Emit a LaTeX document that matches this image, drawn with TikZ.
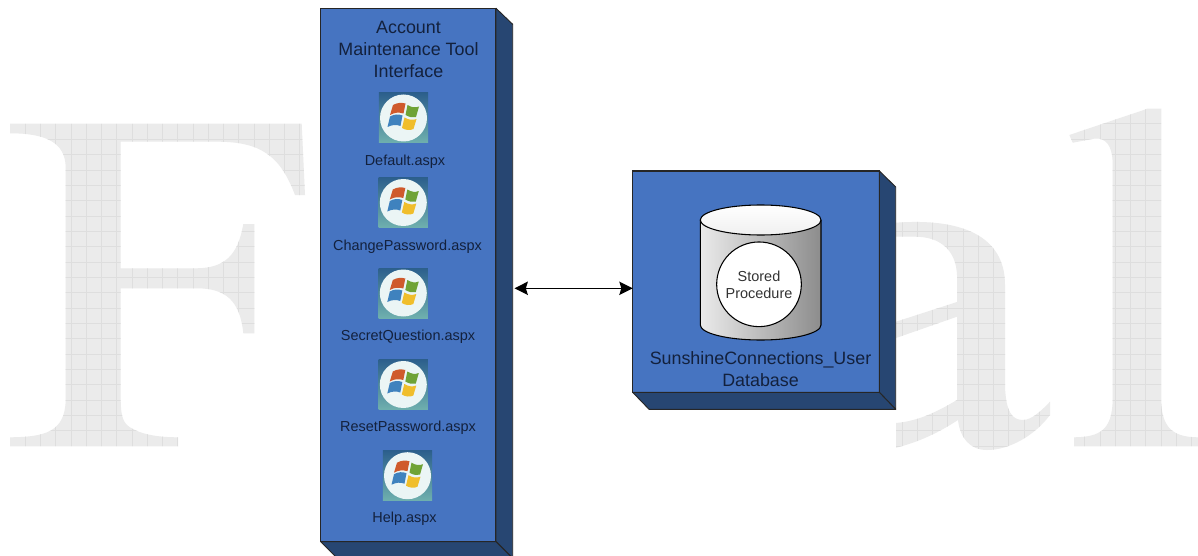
\documentclass[tikz,border=0pt]{standalone}
\usepackage{fontspec}
\setmainfont{Liberation Sans}
\usetikzlibrary{arrows.meta,calc}
\definecolor{boxblue}{HTML}{4674C1}
\definecolor{boxdark}{HTML}{274672}
\definecolor{inktext}{HTML}{13213D}
\definecolor{wmfill}{HTML}{EBEBEB}
\definecolor{wmgrid}{HTML}{DEDEDE}
\definecolor{icontop}{HTML}{2C5F8C}
\definecolor{iconlow}{HTML}{6FB0AE}
\definecolor{flagred}{HTML}{CF5A2C}
\definecolor{flaggreen}{HTML}{6FA336}
\definecolor{flagblue}{HTML}{3F82BE}
\definecolor{flagyellow}{HTML}{F0BE2C}
\tikzset{
  boxfront/.style={draw=black!85,line width=0.8pt,fill=boxblue,inner sep=0pt,outer sep=0pt},
  boxside/.style={draw=black!85,line width=0.7pt,fill=boxdark,line join=round},
  bigtext/.style={font=\fontsize{13.4}{16.5}\selectfont,text=inktext,align=center,inner sep=0pt},
  smalltext/.style={font=\fontsize{10.85}{12.8}\selectfont,text=inktext,align=center,inner sep=0pt},
  iconbox/.style={minimum width=37pt,minimum height=37.5pt,inner sep=0pt,outer sep=0pt,top color=icontop,bottom color=iconlow},
  gridline/.style={wmgrid,line width=0.6pt},
  link/.style={black,line width=1.2pt,{Stealth[length=10pt,width=10pt,inset=1.5pt]}-{Stealth[length=10pt,width=10pt,inset=1.5pt]}}
}
\newcommand{\wingrid}[2]{%
  \fill[wmfill] (0,100) rectangle (1198,460);
  \foreach \k in {0,...,#2} {\draw[gridline] ({#1+15.25*\k},100) -- ({#1+15.25*\k},460);}
  \foreach \k in {0,...,22} {\draw[gridline] (0,{108.5+15.35*\k}) -- (1198,{108.5+15.35*\k});}
}
\newcommand{\winicon}[3]{%
  \node[iconbox] (#1) at (#2,#3) {};
  \begin{scope}[shift={(#2,#3)}]
    \fill[white!92!teal] (0,0) circle [radius=23.5];
    \fill[flagred] (-10.5,-13) .. controls (-6,-15.5) and (-2,-15.5) .. (2,-14.5) -- (0,-4.5) .. controls (-5,-6) and (-9,-5.5) .. (-13.5,-3) -- cycle;
    \fill[flaggreen] (4,-13) .. controls (8,-10.5) and (12,-10) .. (15.5,-11.5) -- (12.5,-1) .. controls (9,0) and (5.5,-1) .. (2,-3) -- cycle;
    \fill[flagblue] (-13.5,-1.5) .. controls (-9,-4) and (-5,-4) .. (-1,-2.5) -- (-3,8) .. controls (-7,6.5) and (-11,6.5) .. (-16,9) -- cycle;
    \fill[flagyellow] (1,-0.5) .. controls (5,2) and (9,2.5) .. (13,1) -- (10,11) .. controls (6,13) and (2,12) .. (-1.5,10) -- cycle;
  \end{scope}
}
\begin{document}
\begin{tikzpicture}[x=0.75pt,y=-0.75pt]
\useasboundingbox (0,0) rectangle (1198,556);
\fill[white] (0,0) rectangle (1198,556);
% watermark letter F
\begin{scope}
\clip (10,124) -- (301.7,124) -- (305,195) -- (295,195)
  .. controls (280,155) and (260,141.7) .. (216.7,141.7) -- (120.7,141.7) -- (120.7,268.3) -- (196.7,268.3)
  .. controls (225,268) and (238,255) .. (243.3,224) -- (254.3,224) -- (254.3,333.3) -- (243.3,333.3)
  .. controls (240,300) and (225,288.3) .. (196.7,288.3) -- (120.7,288.3) -- (120.7,400)
  .. controls (121,420) and (124,425) .. (135,430) .. controls (145,435) and (160,437.3) .. (178,437.3)
  -- (178,446) -- (10,446) -- (10,437.3)
  .. controls (45,437) and (65,432) .. (65.7,400) -- (65.7,166.7)
  .. controls (65,142) and (45,133.3) .. (10,133.3) -- cycle;
\wingrid{25.3}{19}
\end{scope}
% watermark letter a
\begin{scope}
\clip (896,222.7) .. controls (960,218) and (1005,235) .. (1005,285) -- (1005,386.7)
  .. controls (1006,412) and (1012,420) .. (1023,420) .. controls (1032,420) and (1042,410) .. (1050,401.7)
  -- (1050,415) .. controls (1035,435) and (1010,450) .. (987,450) .. controls (970,450) and (960,438) .. (958,420)
  .. controls (935,435) and (915,443) .. (896,447.7) -- (896,423) .. controls (920,421) and (940,410) .. (957,400)
  -- (957,316.7) -- (896,338) -- (896,321.7) -- (957,302) -- (957,275)
  .. controls (956,250) and (940,236.7) .. (915,236.7) -- (896,236.7) -- cycle;
\wingrid{902}{11}
\end{scope}
% watermark letter l
\begin{scope}
\clip (1069.3,135) -- (1146.7,109) -- (1161,109) -- (1161,400)
  .. controls (1162,425) and (1170,437.3) .. (1198,437.3) -- (1198,446) -- (1074,446) -- (1074,437.3)
  .. controls (1100,437) and (1112,430) .. (1112.7,400) -- (1112.7,163)
  .. controls (1112,145) and (1106,138) .. (1095,138.5) -- (1072.7,142.7) -- cycle;
\wingrid{1084.8}{7}
\end{scope}
% left block
\node[boxfront,minimum width=131.5pt,minimum height=400pt] (lb) at (408.35,275) {};
\coordinate (lbne) at ($(lb.north east)+(16.7,16)$);
\coordinate (lbse) at ($(lb.south east)+(16.7,16.7)$);
\coordinate (lbsw) at ($(lb.south west)+(16.7,16.7)$);
\draw[boxside] (lb.north east) -- (lbne) -- (lbse) -- (lb.south east) -- cycle;
\draw[boxside] (lb.south west) -- (lbsw) -- (lbse) -- (lb.south east) -- cycle;
\node[bigtext] (ltitle) at (408.5,49.3) {Account\\Maintenance Tool\\Interface};
\winicon{i1}{403.5}{118}
\winicon{i2}{403.3}{202.5}
\winicon{i3}{403.3}{293}
\winicon{i4}{403.3}{384.5}
\winicon{i5}{407.5}{475.7}
\node[smalltext] (t1) at (405,161.5) {Default.aspx};
\node[smalltext] (t2) at (407.5,246.5) {ChangePassword.aspx};
\node[smalltext] (t3) at (408,336.5) {SecretQuestion.aspx};
\node[smalltext] (t4) at (408,428) {ResetPassword.aspx};
\node[smalltext] (t5) at (404.5,519) {Help.aspx};
% right block
\node[boxfront,minimum width=185pt,minimum height=166pt] (rb) at (756,281.65) {};
\coordinate (rbne) at ($(rb.north east)+(16.4,16)$);
\coordinate (rbse) at ($(rb.south east)+(16.4,17)$);
\coordinate (rbsw) at ($(rb.south west)+(16.4,17)$);
\draw[boxside] (rb.north east) -- (rbne) -- (rbse) -- (rb.south east) -- cycle;
\draw[boxside] (rb.south west) -- (rbsw) -- (rbse) -- (rb.south east) -- cycle;
% cylinder
\shade[left color=white!92!black,middle color=black!22,right color=black!45,shading angle=90]
  (700.3,220) -- (700.3,325) arc [start angle=180,end angle=0,x radius=60.35,y radius=15] -- (821,220) -- cycle;
\draw[black,line width=0.8pt] (700.3,220) -- (700.3,325) arc [start angle=180,end angle=0,x radius=60.35,y radius=15] -- (821,220);
\draw[black,line width=0.8pt,top color=white,bottom color=black!6] (760.65,220) ellipse [x radius=60.35,y radius=15];
\node[circle,draw=black,line width=0.8pt,fill=white,minimum width=63.5pt,inner sep=0pt] (sp) at (759,284.3) {};
\node[smalltext,font=\fontsize{10.85}{12.75}\selectfont,text=black!80] (spt) at (759,284.7) {Stored\\Procedure};
\node[bigtext] (rtitle) at (760.5,369.5) {SunshineConnections\_User\\Database};
% connector
\coordinate (lnk) at (514.5,288.3);
\draw[link] (lnk) -- (rb.west |- lnk);
\end{tikzpicture}
\end{document}
